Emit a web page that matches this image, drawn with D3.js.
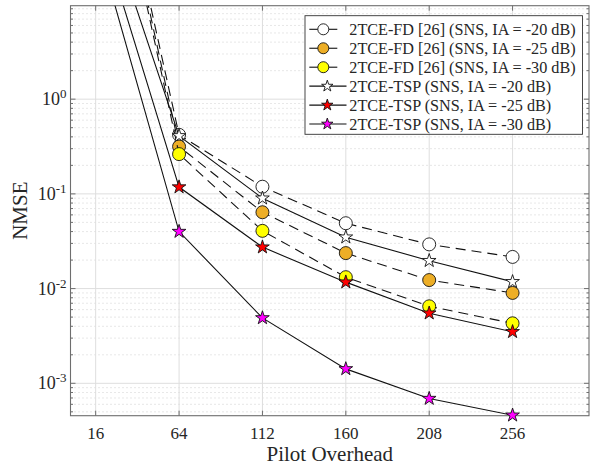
<!DOCTYPE html>
<html>
<head>
<meta charset="utf-8">
<script src="https://cdn.jsdelivr.net/npm/d3@7"></script>
<style>
  body { margin: 0; background: #fff; }
  svg text { font-family: "Liberation Serif", "Times New Roman", serif; fill: #262626; }
</style>
</head>
<body>
<svg id="chart" width="590" height="465"></svg>
<script>

// DATA -----------------------------------------------------------------------

var pilots = [16, 64, 112, 160, 208, 256];
var xTicks = [16, 64, 112, 160, 208, 256];
var yTickExps = [-3, -2, -1, 0];

var fd20  = [4000, 0.42, 0.119, 0.049, 0.0293, 0.0216];
var fd25  = [3500, 0.316, 0.064, 0.0237, 0.0123, 0.0090];
var fd30  = [3000, 0.263, 0.0407, 0.0132, 0.0065, 0.0043];
var tsp20 = [175, 0.41, 0.090, 0.0349, 0.0197, 0.0118];
var tsp25 = [87, 0.118, 0.0274, 0.0117, 0.0055, 0.0035];
var tsp30 = [51, 0.040, 0.0049, 0.00142, 0.00069, 0.00046];

var labels = [
    "2TCE-FD [26] (SNS, IA = -20 dB)",
    "2TCE-FD [26] (SNS, IA = -25 dB)",
    "2TCE-FD [26] (SNS, IA = -30 dB)",
    "2TCE-TSP (SNS, IA = -20 dB)",
    "2TCE-TSP (SNS, IA = -25 dB)",
    "2TCE-TSP (SNS, IA = -30 dB)"
];

// series table built from the arrays above (draw order = legend order)
var series = [
    { name: labels[0], values: fd20,  marker: "circle", fill: "#ffffff", dashed: true },
    { name: labels[1], values: fd25,  marker: "circle", fill: "#edae26", dashed: true },
    { name: labels[2], values: fd30,  marker: "circle", fill: "#ffff00", dashed: true },
    { name: labels[3], values: tsp20, marker: "star",   fill: "#ffffff", dashed: false },
    { name: labels[4], values: tsp25, marker: "star",   fill: "#ff0000", dashed: false },
    { name: labels[5], values: tsp30, marker: "star",   fill: "#ff00ff", dashed: false }
];


// LAYOUT ---------------------------------------------------------------------

// (don't call these top/left - window.top is read only)
var pL = 70.5, pR = 589, pT = 5.7, pB = 415.7;
var svg = d3.select("#chart");

var x = d3.scaleLinear().domain([1.5, 300]).range([pL, pR]);
var y = d3.scaleLog().domain([4.55e-4, 9.7]).range([pB, pT]);

var gridColor = "#dedede";
var axisColor = "#6e6e6e";


// GRID -----------------------------------------------------------------------

var grid = svg.append("g");

// minor (dotted) horizontal gridlines at 2..9 x 10^k
var minorVals = [];
for (var k = -4; k <= 0; k++)
    for (var m = 2; m <= 9; m++) {
        var v = m * Math.pow(10, k);
        if (v > y.domain()[0] && v < y.domain()[1]) minorVals.push(v);
    }

grid.selectAll(".minor").data(minorVals).enter()
    .append("line")
    .attr("x1", pL).attr("x2", pR)
    .attr("y1", function(d) { return y(d); })
    .attr("y2", function(d) { return y(d); })
    .attr("stroke", "#c4c4c4")
    .attr("stroke-width", 0.8)
    .attr("stroke-dasharray", "1,3");

grid.selectAll(".majorY").data(yTickExps).enter()
    .append("line")
    .attr("x1", pL).attr("x2", pR)
    .attr("y1", function(d) { return y(Math.pow(10, d)); })
    .attr("y2", function(d) { return y(Math.pow(10, d)); })
    .attr("stroke", gridColor)
    .attr("stroke-width", 1);

grid.selectAll(".majorX").data(xTicks).enter()
    .append("line")
    .attr("x1", function(d) { return x(d); })
    .attr("x2", function(d) { return x(d); })
    .attr("y1", pT).attr("y2", pB)
    .attr("stroke", gridColor)
    .attr("stroke-width", 1);


// AXES -----------------------------------------------------------------------

var axes = svg.append("g");

// box
axes.append("rect")
    .attr("x", pL).attr("y", pT)
    .attr("width", pR - pL).attr("height", pB - pT)
    .attr("fill", "none")
    .attr("stroke", axisColor)
    .attr("stroke-width", 1.1);

// ticks (inward, on both sides like matlab "box on")
xTicks.forEach(function(t) {
    var xx = x(t);
    axes.append("line").attr("x1", xx).attr("x2", xx)
        .attr("y1", pB).attr("y2", pB - 5)
        .attr("stroke", axisColor);
    axes.append("line").attr("x1", xx).attr("x2", xx)
        .attr("y1", pT).attr("y2", pT + 5)
        .attr("stroke", axisColor);
});

yTickExps.forEach(function(e) {
    var yy = y(Math.pow(10, e));
    axes.append("line").attr("x1", pL).attr("x2", pL + 5)
        .attr("y1", yy).attr("y2", yy).attr("stroke", axisColor);
    axes.append("line").attr("x1", pR).attr("x2", pR - 5)
        .attr("y1", yy).attr("y2", yy).attr("stroke", axisColor);
});

minorVals.forEach(function(v) {
    var yy = y(v);
    axes.append("line").attr("x1", pL).attr("x2", pL + 2.5)
        .attr("y1", yy).attr("y2", yy).attr("stroke", axisColor);
    axes.append("line").attr("x1", pR).attr("x2", pR - 2.5)
        .attr("y1", yy).attr("y2", yy).attr("stroke", axisColor);
});

// x tick labels
axes.selectAll(".xlab").data(xTicks).enter()
    .append("text")
    .attr("x", function(d) { return x(d); })
    .attr("y", 438.5)
    .attr("text-anchor", "middle")
    .attr("font-size", "17px")
    .text(function(d) { return d; });

// y tick labels: 10^k
yTickExps.forEach(function(e) {
    var t = axes.append("text")
        .attr("x", 66.5)
        .attr("y", y(Math.pow(10, e)) + 6)
        .attr("text-anchor", "end")
        .attr("font-size", "18px");
    t.append("tspan").text("10");
    t.append("tspan")
        .attr("font-size", "13px")
        .attr("dy", -7)
        .text(e);
});

// axis titles
svg.append("text")
    .attr("x", (pL + pR) / 2)
    .attr("y", 461)
    .attr("text-anchor", "middle")
    .attr("font-size", "21px")
    .text("Pilot Overhead");

svg.append("text")
    .attr("transform", "translate(27," + ((pT + pB) / 2) + ") rotate(-90)")
    .attr("text-anchor", "middle")
    .attr("font-size", "21px")
    .text("NMSE");


// LINES + MARKERS ------------------------------------------------------------

svg.append("clipPath").attr("id", "plotclip")
    .append("rect")
    .attr("x", pL).attr("y", pT)
    .attr("width", pR - pL).attr("height", pB - pT);

var line = d3.line()
    .x(function(d, i) { return x(pilots[i]); })
    .y(function(d) { return y(d); });

var star = d3.symbol().type(d3.symbolStar);

/** Draws a circle (radius r) or a star (outer radius r). */
function drawMarker(g, s, cx, cy, r) {
    if (s.marker == "circle") {
        g.append("circle")
            .attr("cx", cx).attr("cy", cy)
            .attr("r", r)
            .attr("fill", s.fill)
            .attr("stroke", "#111")
            .attr("stroke-width", 0.9);
    } else {
        g.append("path")
            .attr("d", star.size(r * r / 0.8908)())
            .attr("transform", "translate(" + cx + "," + cy + ")")
            .attr("fill", s.fill)
            .attr("stroke", "#111")
            .attr("stroke-width", 0.9);
    }
}

series.forEach(function(s) {
    var g = svg.append("g");
    g.append("path")
        .datum(s.values)
        .attr("clip-path", "url(#plotclip)")
        .attr("d", line)
        .attr("fill", "none")
        .attr("stroke", "#111")
        .attr("stroke-width", 1.1)
        .attr("stroke-dasharray", s.dashed ? "10,6" : null);

    s.values.forEach(function(v, i) {
        var cy = y(v);
        if (cy < pT) return; // off the top of the chart
        drawMarker(g, s, x(pilots[i]), cy, s.marker == "circle" ? 6.5 : 7.2);
    });
});


// LEGEND ---------------------------------------------------------------------

var leg = svg.append("g");
leg.append("rect")
    .attr("x", 305).attr("y", 15.7)
    .attr("width", 277.5).attr("height", 118.6)
    .attr("fill", "#fff")
    .attr("stroke", "#333")
    .attr("stroke-width", 0.9);

series.forEach(function(s, i) {
    var cy = 29.3 + i * 18.95;
    var mx = s.marker == "circle" ? 323.3 : 327.3;
    var x2 = s.marker == "circle" ? 337.3 : 346.5;
    leg.append("line")
        .attr("x1", 309.3).attr("x2", x2)
        .attr("y1", cy).attr("y2", cy)
        .attr("stroke", "#111")
        .attr("stroke-width", 1.1);
    drawMarker(leg, s, mx, cy, s.marker == "circle" ? 5.5 : 6);
    leg.append("text")
        .attr("x", 349.3)
        .attr("y", cy + 5.7)
        .attr("font-size", "16.2px")
        .text(s.name);
});

</script>
</body>
</html>
